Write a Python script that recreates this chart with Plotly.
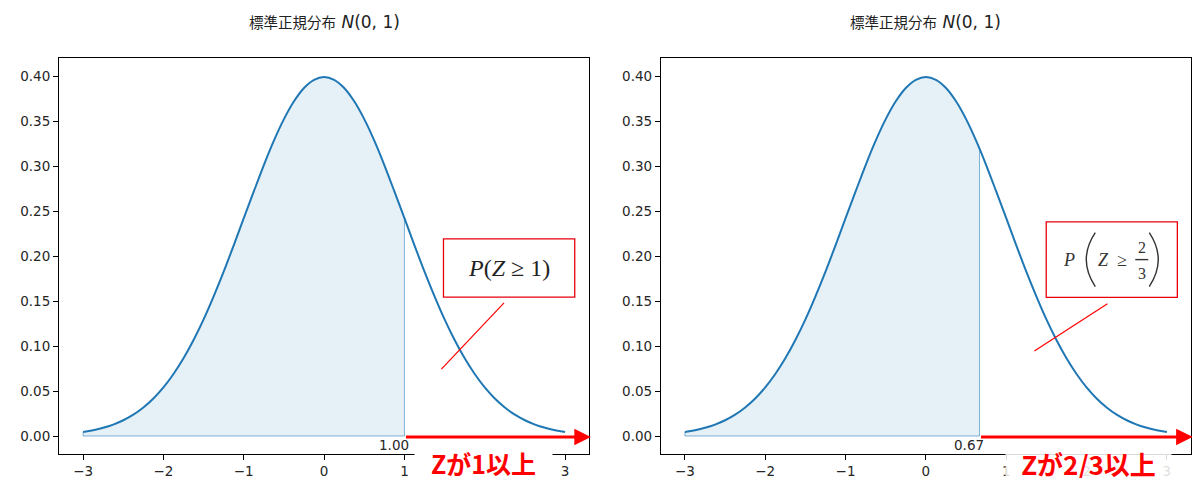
import plotly.graph_objects as go

# ---------------- data ----------------
X_PTS = [-3.0, -2.875, -2.75, -2.625, -2.5, -2.375, -2.25, -2.125, -2.0, -1.875, -1.75,
         -1.625, -1.5, -1.375, -1.25, -1.125, -1.0, -0.875, -0.75, -0.625, -0.5, -0.375,
         -0.25, -0.125, 0.0, 0.125, 0.25, 0.375, 0.5, 0.625, 0.75, 0.875, 1.0, 1.125, 1.25,
         1.375, 1.5, 1.625, 1.75, 1.875, 2.0, 2.125, 2.25, 2.375, 2.5, 2.625, 2.75, 2.875, 3.0]
PDF_PTS = [0.0044, 0.0064, 0.0091, 0.0127, 0.0175, 0.0237, 0.0317, 0.0417, 0.0540, 0.0689,
           0.0863, 0.1066, 0.1295, 0.1551, 0.1826, 0.2119, 0.2420, 0.2717, 0.3011, 0.3282,
           0.3521, 0.3719, 0.3867, 0.3958, 0.3989, 0.3958, 0.3867, 0.3719, 0.3521, 0.3282,
           0.3011, 0.2717, 0.2420, 0.2119, 0.1826, 0.1551, 0.1295, 0.1066, 0.0863, 0.0689,
           0.0540, 0.0417, 0.0317, 0.0237, 0.0175, 0.0127, 0.0091, 0.0064, 0.0044]
Z_VALUES = [1.0, 0.667]
Z_HEIGHTS = [0.242, 0.319]
Z_LABELS = ["1.00", "0.67"]
RED_LABELS = ["Zが1以上", "Zが2/3以上"]
TITLE_JA = "標準正規分布"
TITLE_MATH = "<i>N</i>(0, 1)"
X_TICKS = [-3, -2, -1, 0, 1, 2, 3]
X_TICKTEXT_LEFT = ["−3", "−2", "−1", "0", "1", "", "3"]   # "2" is hidden under the red label
X_TICKTEXT_RIGHT = ["−3", "−2", "−1", "0", "1", "2", "3"]
Y_TICKS = [0.00, 0.05, 0.10, 0.15, 0.20, 0.25, 0.30, 0.35, 0.40]

BLUE = "#1f77b4"
RED = "#ff0000"
TICKFONT = dict(family="DejaVu Sans", size=13.5, color="#262626")
SERIF = "Liberation Serif, DejaVu Serif"

fig = go.Figure()
annotations = []
shapes = []

# plot area in figure px (page adds an 8px body offset)
L, R, T, B = 45, 17, 50, 47
PW = 1200 - L - R
PH = 493 - T - B
domains = [[0.0, 533 / PW], [(533 + 72) / PW, 1.0]]

for i in range(2):
    xr = "x" if i == 0 else "x2"
    yr = "y" if i == 0 else "y2"
    z = Z_VALUES[i]
    zh = Z_HEIGHTS[i]
    fx = [x for x in X_PTS if x <= z]
    fy = [PDF_PTS[k] for k, x in enumerate(X_PTS) if x <= z]
    if fx[-1] != z:
        fx.append(z)
        fy.append(zh)
    fig.add_trace(go.Scatter(x=fx, y=fy, xaxis=xr, yaxis=yr, mode="lines",
                             line=dict(width=0, shape="spline", color=BLUE),
                             fill="tozeroy", fillcolor="rgba(31,119,180,0.11)",
                             hoverinfo="skip", showlegend=False))
    fig.add_trace(go.Scatter(x=[X_PTS[0], X_PTS[0], z, z], y=[PDF_PTS[0], 0, 0, zh],
                             xaxis=xr, yaxis=yr, mode="lines",
                             line=dict(width=1, color="rgba(31,119,180,0.55)"),
                             hoverinfo="skip", showlegend=False))
    fig.add_trace(go.Scatter(x=X_PTS, y=PDF_PTS, xaxis=xr, yaxis=yr, mode="lines",
                             line=dict(width=2, color=BLUE, shape="spline"),
                             showlegend=False))

    dc = (domains[i][0] + domains[i][1]) / 2
    annotations.append(dict(xref="paper", yref="paper", x=dc, y=1 + 36 / PH,
                            text='<span style="font-size:14.5px">' + TITLE_JA + "</span> " + TITLE_MATH,
                            showarrow=False, xanchor="center", yanchor="middle",
                            font=dict(family="DejaVu Sans, Noto Sans CJK JP", size=17, color="#222")))
    annotations.append(dict(xref=xr, yref=yr, x=z, y=0, text=Z_LABELS[i], showarrow=False,
                            xanchor="right", yanchor="top", xshift=7, yshift=1,
                            font=dict(family="DejaVu Sans", size=13.5, color="#262626")))
    # red text label with white background box
    xc = [(480 - 8 - L) / PW, (1088 - 8 - L) / PW][i]
    annotations.append(dict(xref="paper", yref="paper",
                            x=xc, y=-9 / PH,
                            text="<b>" + RED_LABELS[i] + "</b>", showarrow=False,
                            xanchor="center", yanchor="middle",
                            width=[137, 165][i], height=30, borderpad=0,
                            bgcolor=["rgba(255,255,255,1)", "rgba(255,255,255,0.85)"][i],
                            font=dict(family="Noto Sans CJK JP", size=[25, 26][i], color=RED)))
    annotations.append(dict(xref=xr, yref=yr, axref=xr, ayref=yr,
                            x=3.32, y=-0.001, ax=z, ay=-0.001, text="",
                            showarrow=True, arrowhead=2, arrowsize=1.1, arrowwidth=3,
                            arrowcolor=RED, standoff=0, startstandoff=0))

# ---- left probability box ----
shapes.append(dict(type="rect", xref="x", yref="y", x0=1.486, x1=3.12, y0=0.1544, y1=0.219,
                   line=dict(color="#e8000b", width=1.3), fillcolor="rgba(255,255,255,0)"))
shapes.append(dict(type="line", xref="x", yref="y", x0=2.24, y0=0.148, x1=1.46, y1=0.0744,
                   line=dict(color=RED, width=1.2)))
annotations.append(dict(xref="x", yref="y", x=2.30, y=0.187, showarrow=False,
                        text="<i>P</i>(<i>Z</i> ≥ 1)", xanchor="center", yanchor="middle",
                        font=dict(family=SERIF, size=24, color="#222")))

# ---- right probability box ----
shapes.append(dict(type="rect", xref="x2", yref="y2", x0=1.498, x1=3.13, y0=0.154, y1=0.238,
                   line=dict(color="#e8000b", width=1.3), fillcolor="rgba(255,255,255,0)"))
shapes.append(dict(type="line", xref="x2", yref="y2", x0=2.26, y0=0.147, x1=1.35, y1=0.0944,
                   line=dict(color=RED, width=1.2)))
cx, cy = 2.32, 0.196
parts = [
    ("<i>P</i>", -43, 0, 18),
    ("<i>Z</i>", -9, 0, 18),
    ("≥", 10, 0, 18),
    ("2", 29.5, 12.5, 16),
    ("3", 29.5, -13.5, 16),
]
for txt, dx, dy, fs in parts:
    annotations.append(dict(xref="x2", yref="y2", x=cx, y=cy, xshift=dx, yshift=dy,
                            text=txt, showarrow=False, xanchor="center", yanchor="middle",
                            font=dict(family=SERIF, size=fs, color="#333")))
# fraction bar and tall parentheses (pixel-sized paths anchored at the box centre)
for path in ["M 23,0 L 36,0", "M -17,27 Q -35,0 -17,-27", "M 37,27 Q 55,0 37,-27"]:
    shapes.append(dict(type="path", xref="x2", yref="y2", xsizemode="pixel", ysizemode="pixel",
                       xanchor=cx, yanchor=cy, path=path,
                       line=dict(color="#333", width=1.4)))

axis_common = dict(showline=True, mirror=True, linecolor="black", linewidth=1,
                   ticks="outside", ticklen=5, tickwidth=1, tickcolor="black",
                   showgrid=False, zeroline=False, tickfont=TICKFONT)

fig.update_layout(
    width=1200, height=493,
    margin=dict(l=L, r=R, t=T, b=B),
    paper_bgcolor="white", plot_bgcolor="white",
    xaxis=dict(domain=domains[0], range=[-3.3, 3.3], tickvals=X_TICKS, ticktext=X_TICKTEXT_LEFT,
               anchor="y", **axis_common),
    yaxis=dict(domain=[0, 1], range=[-0.02, 0.42], tickvals=Y_TICKS, tickformat=".2f",
               anchor="x", **axis_common),
    xaxis2=dict(domain=domains[1], range=[-3.3, 3.3], tickvals=X_TICKS, ticktext=X_TICKTEXT_RIGHT,
                anchor="y2", **axis_common),
    yaxis2=dict(domain=[0, 1], range=[-0.02, 0.42], tickvals=Y_TICKS, tickformat=".2f",
                anchor="x2", **axis_common),
    annotations=annotations,
    shapes=shapes,
    showlegend=False,
)

fig.write_html("out.html")
